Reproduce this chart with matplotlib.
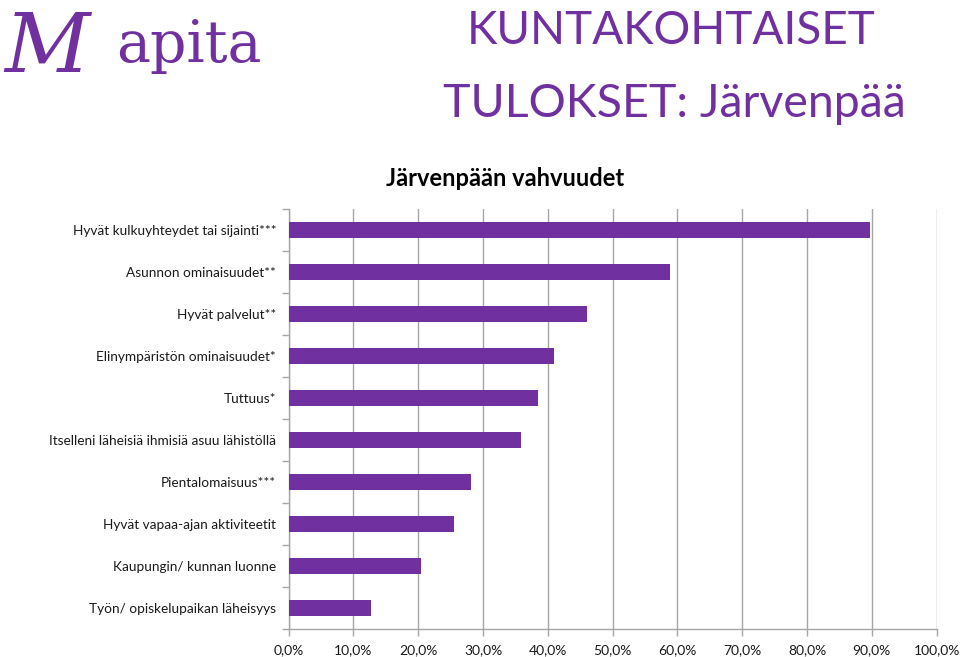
import matplotlib
matplotlib.use("Agg")
import matplotlib.pyplot as plt
from matplotlib.ticker import FixedLocator, FuncFormatter, MultipleLocator
import numpy as np

categories = [
    "Hyvät kulkuyhteydet tai sijainti***",
    "Asunnon ominaisuudet**",
    "Hyvät palvelut**",
    "Elinympäristön ominaisuudet*",
    "Tuttuus*",
    "Itselleni läheisiä ihmisiä asuu lähistöllä",
    "Pientalomaisuus***",
    "Hyvät vapaa-ajan aktiviteetit",
    "Kaupungin/ kunnan luonne",
    "Työn/ opiskelupaikan läheisyys",
]
values = [89.7, 58.8, 46.1, 40.9, 38.4, 35.8, 28.2, 25.5, 20.4, 12.7]

PURPLE = "#7030A0"
GRID = "#A6A6A6"
FONT = ["Lato", "DejaVu Sans"]

plt.rcParams["font.family"] = FONT

fig = plt.figure(figsize=(9.6, 6.57), dpi=100)
ax = fig.add_axes([0.3007, 0.0422, 0.675, 0.6397])

y = np.arange(len(categories))
ax.barh(y, values, height=0.38, color=PURPLE, zorder=3)

ax.set_xlim(0, 100)
ax.set_ylim(len(categories) - 0.5, -0.5)

ax.xaxis.set_major_locator(MultipleLocator(10))
ax.xaxis.set_major_formatter(FuncFormatter(lambda v, p: f"{v:.1f}%".replace(".", ",")))
ax.grid(axis="x", color=GRID, linewidth=1.0, zorder=0)
ax.grid(axis="y", visible=False)

ax.set_yticks(y)
ax.set_yticklabels(categories)
ax.yaxis.set_minor_locator(FixedLocator(np.arange(-0.5, len(categories), 1.0)))
ax.tick_params(axis="y", which="major", length=0, pad=9, labelsize=9.8, colors="#1a1a1a")
ax.tick_params(axis="y", which="minor", length=5, color=GRID, width=1.0)
ax.tick_params(axis="x", which="major", length=5, color=GRID, width=1.0, labelsize=10, pad=6, labelcolor="#1a1a1a")

for s in ["top", "right"]:
    ax.spines[s].set_visible(False)
for s in ["left", "bottom"]:
    ax.spines[s].set_color(GRID)
    ax.spines[s].set_linewidth(1.0)

# Chart title
fig.text(505 / 960, 1 - 178 / 657, "Järvenpään vahvuudet", ha="center", va="center",
         fontsize=17, fontweight="bold", color="black")

# Big heading
fig.text(671 / 960, 1 - 44 / 657, "KUNTAKOHTAISET", ha="center", va="baseline",
         fontsize=33, color=PURPLE)
fig.text(674 / 960, 1 - 117 / 657, "TULOKSET: Järvenpää", ha="center", va="baseline",
         fontsize=33.5, color=PURPLE)

# Logo
fig.text(4 / 960, 1 - 72 / 657, "M", ha="left", va="baseline", fontsize=60,
         family="DejaVu Serif", style="italic", color=PURPLE)
fig.text(116 / 960, 1 - 62 / 657, "apita", ha="left", va="baseline", fontsize=41,
         family="DejaVu Serif", color=PURPLE)

fig.savefig("out.png", dpi=100)
